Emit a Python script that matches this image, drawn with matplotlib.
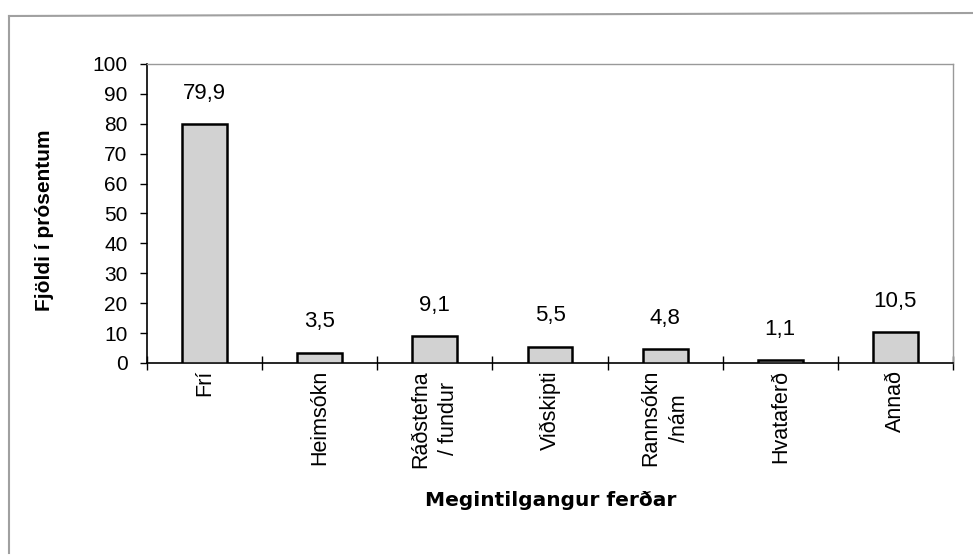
import matplotlib
matplotlib.use("Agg")
import matplotlib.pyplot as plt
from matplotlib.lines import Line2D

categories = ["Frí", "Heimsókn", "Ráðstefna\n/ fundur", "Viðskipti", "Rannsókn\n/nám", "Hvataferð", "Annað"]
values = [79.9, 3.5, 9.1, 5.5, 4.8, 1.1, 10.5]
value_labels = ["79,9", "3,5", "9,1", "5,5", "4,8", "1,1", "10,5"]
y_ticks = list(range(0, 101, 10))

plt.rcParams['font.family'] = ['Liberation Sans', 'DejaVu Sans']

W, H = 973, 555
fig = plt.figure(figsize=(W / 100, H / 100), dpi=100)

# outer frame (top and left edges, as in the scanned original)
fig.add_artist(Line2D([9 / W, 1.0], [1 - 16 / H, 1 - 13 / H], transform=fig.transFigure,
                      color='#a0a0a0', linewidth=1.5))
fig.add_artist(Line2D([9 / W, 9 / W], [1 - 16 / H, 1 - 553 / H], transform=fig.transFigure,
                      color='#a0a0a0', linewidth=1.5))

left, right, top, bottom = 147, 953, 64, 363
ax = fig.add_axes([left / W, 1 - bottom / H, (right - left) / W, (bottom - top) / H])

x = list(range(len(categories)))
ax.bar(x, values, width=0.39, color='#d2d2d2', edgecolor='black', linewidth=1.8, zorder=3)

for xi, v, lab in zip(x, values, value_labels):
    ax.annotate(lab, (xi, v), xytext=(0, 22), textcoords='offset points',
                ha='center', va='center', fontsize=16)

ax.set_xlim(-0.5, len(categories) - 0.5)
ax.set_ylim(0, 100)
ax.set_yticks(y_ticks)
ax.set_yticklabels([str(t) for t in y_ticks], fontsize=15)
ax.tick_params(axis='y', direction='out', length=5, width=1, pad=9)

ax.set_xticks(x)
ax.set_xticklabels(categories, rotation=90, fontsize=15.5, va='top', ha='center', linespacing=1.45)
ax.set_xticks([i - 0.5 for i in range(len(categories) + 1)], minor=True)
ax.tick_params(axis='x', which='major', length=0, pad=5)
ax.tick_params(axis='x', which='minor', direction='inout', length=10, width=1)

for s in ['left', 'bottom']:
    ax.spines[s].set_linewidth(1.2)
    ax.spines[s].set_color('black')
for s in ['top', 'right']:
    ax.spines[s].set_linewidth(1.0)
    ax.spines[s].set_color('#999999')

fig.text(45 / W, 1 - 220 / H, "Fjöldi í prósentum", rotation=90, ha='center', va='center',
         fontsize=15, fontweight='bold')
fig.text(551 / W, 1 - 500 / H, "Megintilgangur ferðar", ha='center', va='center',
         fontsize=14.5, fontweight='bold', family=['DejaVu Sans'])

fig.savefig("out.png", dpi=100)
